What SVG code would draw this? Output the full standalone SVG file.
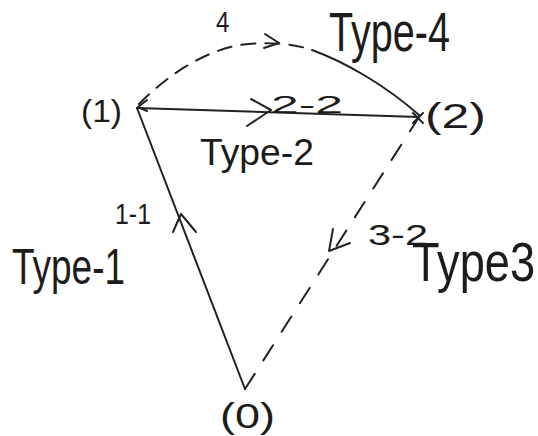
<svg xmlns="http://www.w3.org/2000/svg" width="538" height="436" viewBox="0 0 538 436">
<style>
.t{font-family:"Liberation Sans","DejaVu Sans",sans-serif;fill:#1c1c1c}
.ln{fill:none;stroke:#222;stroke-width:2;stroke-linecap:round;stroke-linejoin:round}
.ds{stroke-dasharray:14 10}
</style>
<rect width="538" height="436" fill="#fff"/>
<g id="connectors">
<path class="ln" d="M245,389 L137,108"/>
<path class="ln" d="M137,108 L419,117"/>
<path class="ln ds" d="M139,104 C165,78 200,52 240,45 C270,41 295,44 312,50"/>
<path class="ln" d="M312,50 C345,62 385,85 419,115"/>
<path class="ln ds" d="M245,389 L419,117" style="stroke-dasharray:18 16"/>
<polyline class="ln" points="173,232 181,214 196,232"/>
<polyline class="ln" points="251,99 271,110 247,126"/>
<polyline class="ln" points="265,34 279,43 264,48"/>
<polyline class="ln" points="333,229 329,251 350,243"/>
<polyline class="ln" points="147,100 138,107 147,111"/>
<path class="ln" d="M413,113 L423,123 M423,113 L413,123"/>
</g>
<g id="node-1"><text class="t" transform="translate(81,122) scale(1,1.1)" font-size="28" textLength="41" lengthAdjust="spacingAndGlyphs">(1)</text></g>
<g id="node-2"><text class="t" transform="translate(425,128) scale(1,1.1)" font-size="32" textLength="61" lengthAdjust="spacingAndGlyphs">(2)</text></g>
<g id="node-0"><text class="t" transform="translate(220,428) scale(1,1.1)" font-size="32" textLength="55" lengthAdjust="spacingAndGlyphs">(0)</text></g>
<g id="labels">
<text class="t" transform="translate(216,32) scale(1,1.2)" font-size="24">4</text>
<text class="t" transform="translate(329,51) scale(1,1.4)" font-size="40" textLength="121" lengthAdjust="spacingAndGlyphs">Type-4</text>
<text class="t" x="271" y="113" font-size="23" textLength="72" lengthAdjust="spacingAndGlyphs">2-2</text>
<text class="t" transform="translate(200,165) scale(1,1.1)" font-size="34" textLength="114" lengthAdjust="spacingAndGlyphs">Type-2</text>
<text class="t" transform="translate(115,224) scale(1,1.2)" font-size="24" textLength="36" lengthAdjust="spacingAndGlyphs">1-1</text>
<text class="t" transform="translate(12,284) scale(1,1.3)" font-size="38" textLength="113" lengthAdjust="spacingAndGlyphs">Type-1</text>
<text class="t" transform="translate(368,245) scale(1,1.1)" font-size="26" textLength="60" lengthAdjust="spacingAndGlyphs">3-2</text>
<text class="t" transform="translate(412,281) scale(1,1.4)" font-size="40" textLength="123" lengthAdjust="spacingAndGlyphs">Type3</text>
</g>
</svg>
